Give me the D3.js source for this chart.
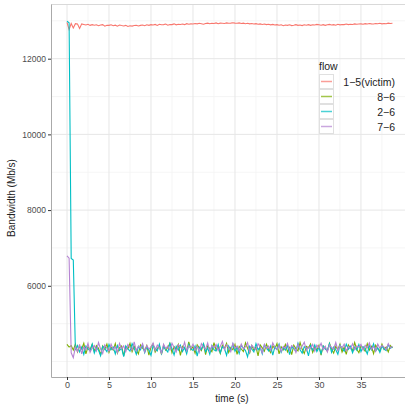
<!DOCTYPE html>
<html>
<head>
<meta charset="utf-8">
<script src="https://cdn.jsdelivr.net/npm/d3@7"></script>
<style>
  body { margin: 0; background: #fff; }
  svg { display: block; font-family: "Liberation Sans", Arial, sans-serif; }
  .grid-major { stroke: #e6e6e6; stroke-width: 1; }
  .grid-minor { stroke: #f3f3f3; stroke-width: 0.8; }
  .axis text { fill: #4d4d4d; font-size: 8.5px; }
  .axis line { stroke: #333; }
  .axis path { stroke: #aaa; }
</style>
</head>
<body>
<div id="chart"></div>
<script>
// sampling interval of the flow counters (seconds)
var dt = 0.25;

var flows = ["1\u22125(victim)", "8\u22126", "2\u22126", "7\u22126"];
var colors = ["#F8766D", "#7CAE00", "#00BFC4", "#B583D2"];

var xTicks = [0, 5, 10, 15, 20, 25, 30, 35];
var xMinor = [2.5, 7.5, 12.5, 17.5, 22.5, 27.5, 32.5, 37.5];
var yTicks = [6000, 8000, 10000, 12000];
var yMinor = [4000, 5000, 7000, 9000, 11000, 13000];

// bandwidth per flow (Mb/s)
var victim = [
  12960, 12770, 12930, 12810, 12925, 12915, 12800, 12920, 12905, 12890, 12910, 12880, 12900, 12885, 12895, 12870, 12890, 12900, 12860, 12885,
  12880, 12895, 12870, 12885, 12860, 12890, 12875, 12865, 12880, 12850, 12870, 12860, 12875, 12885, 12865, 12880, 12890, 12870, 12895, 12880,
  12900, 12890, 12905, 12880, 12910, 12895, 12900, 12915, 12885, 12905, 12900, 12920, 12895, 12910, 12905, 12915, 12900, 12925, 12910, 12920,
  12915, 12930, 12920, 12935, 12925, 12910, 12930, 12940, 12925, 12935, 12930, 12945, 12925, 12940, 12935, 12930, 12945, 12935, 12940, 12950,
  12940, 12935, 12945, 12930, 12940, 12925, 12935, 12920, 12930, 12915, 12925, 12910, 12920, 12905, 12915, 12900, 12910, 12895, 12905, 12890,
  12900, 12885, 12895, 12870, 12890, 12880, 12895, 12875, 12885, 12900, 12880, 12890, 12875, 12895, 12885, 12900, 12880, 12895, 12890, 12905,
  12895, 12885, 12900, 12880, 12895, 12905, 12890, 12900, 12885, 12910, 12895, 12905, 12900, 12915, 12900, 12910, 12905, 12920, 12910, 12915,
  12920, 12910, 12925, 12915, 12930, 12920, 12915, 12930, 12925, 12935, 12920, 12930, 12925, 12940, 12930, 12935
];
var flow86 = [
  4450, 4380, 4420, 4300, 4460, 4250, 4400, 4330, 4480, 4200, 4390, 4310, 4450, 4270, 4420, 4350, 4180, 4410, 4320, 4460,
  4240, 4380, 4300, 4470, 4220, 4360, 4410, 4150, 4390, 4330, 4480, 4260, 4400, 4310, 4200, 4440, 4350, 4290, 4420, 4170,
  4380, 4460, 4250, 4340, 4410, 4190, 4430, 4300, 4370, 4480, 4230, 4390, 4320, 4450, 4160, 4400, 4350, 4270, 4520, 4310,
  4390, 4220, 4440, 4360, 4290, 4470, 4180, 4410, 4340, 4260, 4500, 4300, 4380, 4210, 4430, 4350, 4480, 4240, 4370, 4310,
  4450, 4190, 4400, 4330, 4260, 4490, 4350, 4220, 4420, 4300, 4380, 4150, 4440, 4360, 4270, 4460, 4320, 4230, 4410, 4340,
  4470, 4200, 4390, 4310, 4450, 4250, 4370, 4180, 4430, 4340, 4280, 4500, 4320, 4210, 4400, 4360, 4460, 4240, 4380, 4300,
  4430, 4170, 4410, 4350, 4270, 4480, 4330, 4220, 4400, 4310, 4460, 4250, 4380, 4190, 4440, 4350, 4290, 4500, 4320, 4230,
  4410, 4360, 4270, 4470, 4300, 4400, 4210, 4430, 4340, 4280, 4460, 4320, 4380, 4250, 4420, 4360
];
var flow26 = [
  12990, 12950, 6720, 6680, 4300, 4420, 4250, 4380, 4190, 4410, 4330, 4280, 4460, 4220, 4370, 4300, 4150, 4400, 4340, 4260,
  4450, 4310, 4380, 4200, 4420, 4290, 4360, 4130, 4410, 4330, 4270, 4470, 4350, 4190, 4400, 4310, 4440, 4230, 4380, 4300,
  4160, 4420, 4350, 4280, 4460, 4210, 4390, 4320, 4250, 4480, 4340, 4170, 4400, 4300, 4430, 4260, 4370, 4200, 4450, 4330,
  4290, 4410, 4140, 4380, 4320, 4470, 4250, 4360, 4190, 4420, 4310, 4280, 4450, 4230, 4390, 4340, 4160, 4410, 4300, 4460,
  4270, 4380, 4210, 4430, 4350, 4290, 4120, 4400, 4330, 4250, 4470, 4310, 4380, 4200, 4440, 4360, 4280, 4410, 4170, 4390,
  4320, 4460, 4240, 4370, 4300, 4430, 4180, 4400, 4340, 4270, 4480, 4310, 4220, 4390, 4350, 4150, 4420, 4300, 4440, 4260,
  4370, 4210, 4410, 4330, 4290, 4470, 4240, 4380, 4310, 4190, 4430, 4350, 4270, 4460, 4320, 4400, 4230, 4380, 4300, 4450,
  4260, 4390, 4340, 4200, 4420, 4310, 4470, 4280, 4360, 4240, 4410, 4330, 4290, 4440, 4350, 4380
];
var flow76 = [
  6790, 6730, 4230, 4100, 4380, 4260, 4450, 4200, 4390, 4310, 4480, 4240, 4360, 4420, 4280, 4500, 4330, 4210, 4440, 4350,
  4270, 4460, 4320, 4390, 4230, 4480, 4340, 4410, 4260, 4450, 4370, 4300, 4520, 4280, 4400, 4350, 4470, 4250, 4420, 4330,
  4380, 4490, 4290, 4430, 4360, 4220, 4460, 4340, 4410, 4300, 4480, 4370, 4250, 4440, 4390, 4320, 4510, 4280, 4420, 4350,
  4460, 4300, 4400, 4240, 4470, 4380, 4330, 4490, 4270, 4420, 4360, 4450, 4290, 4400, 4530, 4310, 4440, 4370, 4260, 4480,
  4350, 4410, 4280, 4460, 4330, 4390, 4500, 4250, 4430, 4360, 4310, 4470, 4380, 4220, 4450, 4340, 4410, 4290, 4490, 4370,
  4320, 4440, 4260, 4400, 4350, 4480, 4300, 4420, 4380, 4240, 4460, 4330, 4410, 4510, 4290, 4390, 4350, 4450, 4270, 4430,
  4360, 4480, 4310, 4400, 4250, 4440, 4370, 4330, 4500, 4290, 4420, 4360, 4460, 4280, 4390, 4340, 4470, 4310, 4410, 4380,
  4450, 4300, 4430, 4360, 4490, 4320, 4400, 4270, 4460, 4350, 4420, 4380, 4310, 4470, 4360, 4400
];

var series = [victim, flow86, flow26, flow76];

var width = 405, height = 407;
var panel = { left: 51, right: 408, top: 4, bottom: 377 };

var svg = d3.select("#chart").append("svg")
  .attr("width", width)
  .attr("height", height);

var xScale = d3.scaleLinear()
  .domain([-1.905, 40.6])
  .range([panel.left, panel.right]);

var yScale = d3.scaleLinear()
  .domain([3590, 13445])
  .range([panel.bottom, panel.top]);

// grid lines
var grid = svg.append("g");
grid.selectAll(".gy-minor").data(yMinor).enter().append("line")
  .attr("class", "grid-minor")
  .attr("x1", panel.left).attr("x2", panel.right)
  .attr("y1", function(d) { return yScale(d); })
  .attr("y2", function(d) { return yScale(d); });
grid.selectAll(".gx-minor").data(xMinor).enter().append("line")
  .attr("class", "grid-minor")
  .attr("y1", panel.top).attr("y2", panel.bottom)
  .attr("x1", function(d) { return xScale(d); })
  .attr("x2", function(d) { return xScale(d); });
grid.selectAll(".gy-major").data(yTicks).enter().append("line")
  .attr("class", "grid-major")
  .attr("x1", panel.left).attr("x2", panel.right)
  .attr("y1", function(d) { return yScale(d); })
  .attr("y2", function(d) { return yScale(d); });
grid.selectAll(".gx-major").data(xTicks).enter().append("line")
  .attr("class", "grid-major")
  .attr("y1", panel.top).attr("y2", panel.bottom)
  .attr("x1", function(d) { return xScale(d); })
  .attr("x2", function(d) { return xScale(d); });

// top edge of the panel
svg.append("line")
  .attr("x1", panel.left).attr("x2", panel.right)
  .attr("y1", panel.top + 0.5).attr("y2", panel.top + 0.5)
  .attr("stroke", "#d9d9d9");

// flow lines
var line = d3.line()
  .x(function(d, i) { return xScale(i * dt); })
  .y(function(d) { return yScale(d); });

svg.append("g").selectAll(".flow")
  .data(series)
  .enter().append("path")
  .attr("class", "flow")
  .attr("fill", "none")
  .attr("stroke", function(d, i) { return colors[i]; })
  .attr("stroke-width", 1.1)
  .attr("d", line);

// axes
svg.append("g")
  .attr("class", "axis")
  .attr("transform", "translate(0," + panel.bottom + ")")
  .call(d3.axisBottom(xScale).tickValues(xTicks).tickSize(3).tickPadding(2).tickSizeOuter(0))
  .selectAll("text").style("font-size", "9px");

svg.append("g")
  .attr("class", "axis")
  .attr("transform", "translate(" + panel.left + ",0)")
  .call(d3.axisLeft(yScale).tickValues(yTicks).tickFormat(d3.format("d"))
    .tickSize(3).tickPadding(2).tickSizeOuter(0));

svg.append("text")
  .attr("x", 232).attr("y", 402)
  .attr("text-anchor", "middle")
  .style("font-size", "10px")
  .attr("fill", "#222")
  .text("time (s)");

svg.append("text")
  .attr("transform", "translate(15,198) rotate(-90)")
  .attr("text-anchor", "middle")
  .style("font-size", "10px")
  .attr("fill", "#222")
  .text("Bandwidth (Mb/s)");

// legend
var legend = svg.append("g").attr("transform", "translate(319,74)");
legend.append("text")
  .attr("x", 0).attr("y", -4)
  .style("font-size", "10.5px")
  .attr("fill", "#222")
  .text("flow");

var rows = legend.selectAll(".key")
  .data(flows)
  .enter().append("g")
  .attr("transform", function(d, i) { return "translate(0," + (i * 15) + ")"; });

rows.append("rect")
  .attr("x", 0.5).attr("y", 0.5)
  .attr("width", 14).attr("height", 14)
  .attr("fill", "#fff")
  .attr("stroke", "#e0e0e0");

rows.append("line")
  .attr("x1", 2).attr("x2", 13)
  .attr("y1", 7.5).attr("y2", 7.5)
  .attr("stroke", function(d, i) { return colors[i]; })
  .attr("stroke-width", 1.5)
  .attr("opacity", 0.7);

rows.append("text")
  .attr("x", 76).attr("y", 11.5)
  .attr("text-anchor", "end")
  .style("font-size", "10.5px")
  .attr("fill", "#222")
  .text(function(d) { return d; });
</script>
</body>
</html>
